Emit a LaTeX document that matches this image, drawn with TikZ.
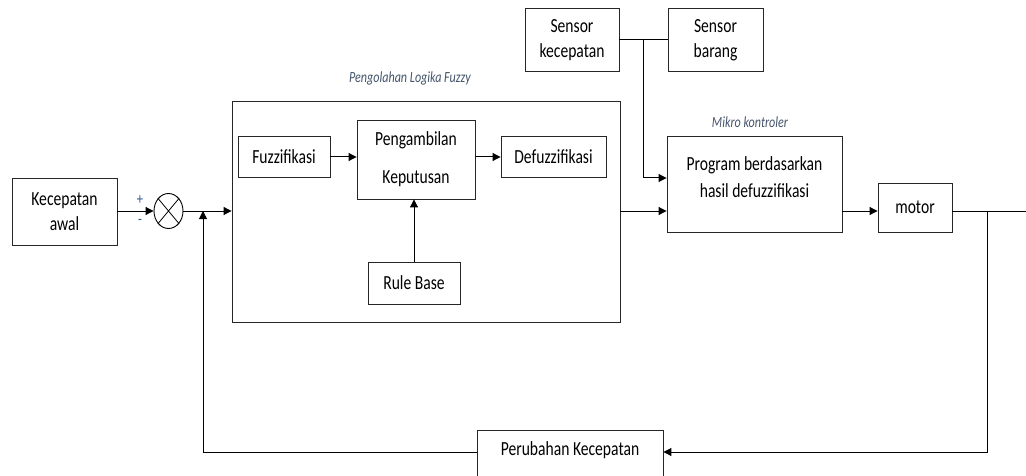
\documentclass[tikz,border=0pt]{standalone}
\usepackage{fontspec}
\setmainfont{Carlito}[FakeStretch=0.78]
\usetikzlibrary{arrows.meta,shapes.geometric,calc}
\definecolor{captext}{HTML}{44546A}
\definecolor{signblue}{HTML}{2F5597}
\newcommand\bodyfont{\fontsize{20}{25}\selectfont}
\newcommand\capfont{\fontsize{15.5}{18}\selectfont\itshape}
\begin{document}
\begin{tikzpicture}[x=1pt,y=-1pt,
  box/.style={draw=black!85,line width=0.9pt,fill=white,inner sep=0pt,
    align=center,font=\bodyfont},
  txt/.style={inner sep=0pt,align=center,font=\bodyfont},
  caption/.style={inner sep=0pt,text=captext,font=\capfont},
  sign/.style={inner sep=0pt,text=signblue,font=\fontsize{16}{18}\selectfont},
  wire/.style={line width=1pt},
  arr/.style={wire,-{Triangle[length=8pt,width=8pt]}}]
\clip (0,0) rectangle (1026,476);
\useasboundingbox (0,0) rectangle (1026,476);

% input and summing junction
\node[box,minimum width=105,minimum height=67] (awal) at (64.5,211.5) {Kecepatan\\awal};
\node[draw=black,line width=0.9pt,ellipse,minimum width=29,minimum height=35,inner sep=0pt] (sum) at (168.5,211) {};
\draw[line width=0.8pt] (sum.north west) -- (sum.south east)
                        (sum.north east) -- (sum.south west);
\node[sign] (plus) at (140,200) {+};
\node[sign] (minus) at (140,222) {-};

% fuzzy logic block
\node[box,minimum width=388,minimum height=221] (big) at (426,211.5) {};
\node[caption] (bigcap) at (410,78) {Pengolahan Logika Fuzzy};
\node[box,minimum width=92,minimum height=41] (fuzz) at (284,157) {Fuzzifikasi};
\node[box,minimum width=118,minimum height=79] (peng) at (416,159.5) {Pengambilan\\[13pt]Keputusan};
\node[box,minimum width=105,minimum height=41] (defuzz) at (553.5,157) {Defuzzifikasi};
\node[box,minimum width=92,minimum height=42] (rule) at (414,283) {Rule Base};

% sensors
\node[box,minimum width=94,minimum height=63] (sk) at (572,40) {Sensor\\kecepatan};
\node[box,minimum width=95,minimum height=63] (sb) at (715.5,40) {Sensor\\barang};

% microcontroller and motor
\node[box,minimum width=175,minimum height=96] (prog) at (754.5,184) {};
\node[txt] (progtext) at (754.5,177) {Program berdasarkan\\[2pt]hasil defuzzifikasi};
\node[caption] (progcap) at (750,122) {Mikro kontroler};
\node[box,minimum width=74,minimum height=49] (motor) at (915,207.5) {motor};

% feedback block
\node[box,minimum width=186,minimum height=70] (rubah) at (570,465) {};
\node[txt] (rubahtext) at (570,450) {Perubahan Kecepatan};

% named points on the wires
\coordinate (jn) at (203,211);
\coordinate (mout) at (1026,211);
\coordinate (fbR) at (987,452);
\coordinate (tap) at ($(sk.east)!0.5!(sb.west)$);

% forward path
\draw[arr] (awal.east |- sum.west) -- (sum.west);
\draw[arr] (sum.east) -- (sum.east -| big.west);
\draw[arr] (fuzz.east) -- (fuzz.east -| peng.west);
\draw[arr] (peng.east |- defuzz.west) -- (defuzz.west);
\draw[arr] (rule.north) -- (rule.north |- peng.south);
\draw[arr] (big.east |- jn) -- (prog.west |- jn);
\draw[wire] (sk.east) -- (sb.west);
\draw[arr] (tap) |- ($(prog.west)+(0,-6)$);
\draw[arr] (prog.east |- mout) -- (motor.west |- mout);
\draw[wire] (motor.east |- mout) -- (mout);

% feedback path
\draw[arr] (fbR |- mout) -- (fbR) -- (fbR -| rubah.east);
\draw[arr] (rubah.west |- fbR) -| (jn);
\end{tikzpicture}
\end{document}
